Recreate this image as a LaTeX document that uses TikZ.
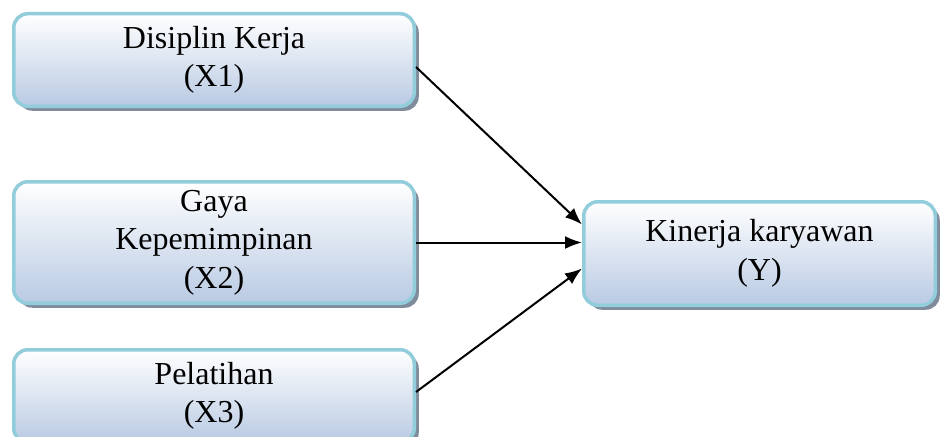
\documentclass[tikz,border=0pt]{standalone}
\usepackage{fontspec}
\setmainfont{Liberation Serif}
\usetikzlibrary{shadows,arrows.meta,shapes.misc}
\definecolor{boxline}{RGB}{146,205,220}
\definecolor{boxbot}{RGB}{185,202,227}
\definecolor{shadowc}{RGB}{128,140,156}
\tikzset{
  varbox/.style={rectangle, rounded corners=14pt, draw=boxline, line width=3.5pt,
    top color=white, bottom color=boxbot, inner sep=0pt, align=center,
    font=\fontsize{32}{38.5}\selectfont,
    drop shadow={shadow xshift=4.5pt, shadow yshift=-4.5pt, fill=shadowc, opacity=1}},
  link/.style={line width=2pt, -{Latex[length=17pt,width=13pt]}}
}
\begin{document}
\begin{tikzpicture}[x=1pt,y=-1pt]
\useasboundingbox (0,0) rectangle (941,436);
\node[varbox, minimum width=400.5pt, minimum height=92.5pt] (b1) at (214,60) {Disiplin Kerja\\(X1)};
\node[varbox, minimum width=400.5pt, minimum height=121.5pt] (b2) at (214,242.5) {Gaya\\Kepemimpinan\\(X2)};
\node[varbox, minimum width=400.5pt, minimum height=92.5pt] (b3) at (214,396) {Pelatihan\\(X3)};
\node[varbox, minimum width=351.5pt, minimum height=103.5pt] (y) at (759.5,253.5) {Kinerja karyawan\\(Y)};
\draw[link] ([yshift=-7pt]b1.east) -- ([yshift=29pt]y.west);
\draw[link] (b2.east) -- (b2.east -| y.west);
\draw[link] ([yshift=4pt]b3.east) -- ([yshift=-15pt]y.west);
\end{tikzpicture}
\end{document}
